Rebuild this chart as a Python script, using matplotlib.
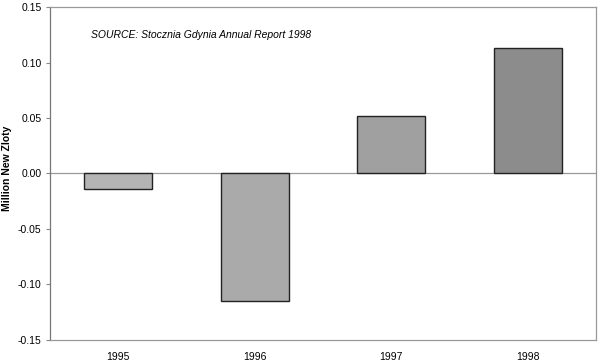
import matplotlib
matplotlib.use("Agg")
import matplotlib.pyplot as plt
import numpy as np

plt.rcParams['font.family'] = ['Liberation Sans', 'DejaVu Sans']

years = ["1995", "1996", "1997", "1998"]
values = [-0.014, -0.115, 0.052, 0.113]
colors = ["#b4b4b4", "#aaaaaa", "#a0a0a0", "#8c8c8c"]
yticks = [-0.15, -0.10, -0.05, 0.00, 0.05, 0.10, 0.15]

fig = plt.figure(figsize=(6, 3.61), dpi=100)
ax = fig.add_axes([0.0833, 0.0582, 0.91, 0.9224])

x = np.arange(len(years))
ax.bar(x, values, width=0.5, color=colors, edgecolor="#222222", linewidth=1.0, zorder=3)
ax.axhline(0, color="#999999", linewidth=0.9, zorder=2)

ax.set_xlim(-0.5, len(years) - 0.5)
ax.set_ylim(-0.15, 0.15)
ax.set_yticks(yticks)
ax.set_yticklabels([f"{v:.2f}" for v in yticks], fontsize=7.5)
ax.set_xticks(x)
ax.set_xticklabels(years, fontsize=7.5)
ax.tick_params(axis='x', length=0, pad=9)
ax.tick_params(axis='y', length=3, color="#888888", pad=3)

for s in ax.spines.values():
    s.set_color("#999999")
    s.set_linewidth(0.9)
ax.spines['left'].set_color("#777777")

fig.text(7 / 600, 1 - 168 / 361, "Million New Zloty", fontsize=7.5, fontweight="bold",
         rotation=90, ha="center", va="center")
ax.text(0.076, 0.917, "SOURCE: Stocznia Gdynia Annual Report 1998", transform=ax.transAxes,
        fontsize=7.5, style="italic", ha="left", va="center")

fig.savefig("out.png", dpi=100)
